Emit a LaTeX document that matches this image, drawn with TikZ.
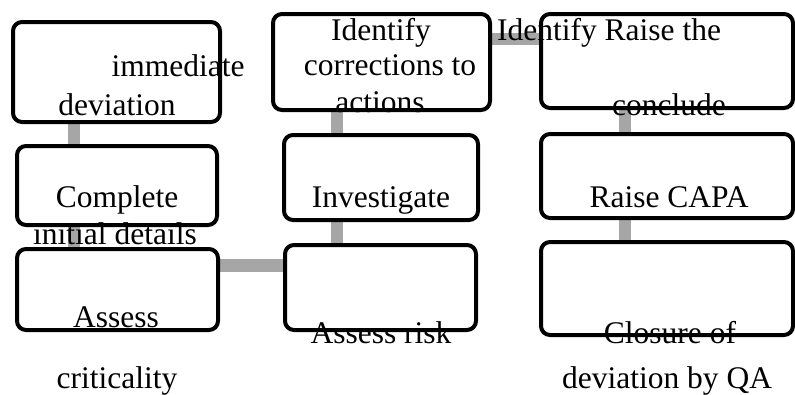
\documentclass[tikz,border=0pt]{standalone}
\usepackage{fontspec}
\setmainfont{Liberation Serif}
\usetikzlibrary{backgrounds}
\begin{document}
\begin{tikzpicture}[x=1pt,y=-1pt,
  stepbox/.style={draw=black, line width=4pt, rounded corners=9pt,
    inner sep=0pt, outer sep=0pt},
  link/.style={draw=black!35, line width=12.5pt},
  lbl/.style={inner sep=0pt, anchor=base, font=\fontsize{31.5}{36}\selectfont}]
\useasboundingbox (0,0) rectangle (795,394);

% columns and rows where the connectors run
\coordinate (xl) at (74,0);
\coordinate (xm) at (337,0);
\coordinate (xr) at (625,0);
\coordinate (ylow) at (0,265.5);
\coordinate (ytop) at (0,39);

% boxes
\node[stepbox, minimum width=207pt, minimum height=100pt] (b1) at (116.5,72) {};
\node[stepbox, minimum width=200pt, minimum height=79pt] (b2) at (117,185.5) {};
\node[stepbox, minimum width=201pt, minimum height=81pt] (b3) at (117.5,289.5) {};
\node[stepbox, minimum width=191pt, minimum height=85pt] (b4) at (380.5,287.5) {};
\node[stepbox, minimum width=194pt, minimum height=85pt] (b5) at (381,177.5) {};
\node[stepbox, minimum width=217pt, minimum height=96pt] (b6) at (381.5,62) {};
\node[stepbox, minimum width=252pt, minimum height=94pt] (b7) at (667,61) {};
\node[stepbox, minimum width=252pt, minimum height=84pt] (b8) at (667,176) {};
\node[stepbox, minimum width=252pt, minimum height=93pt] (b9) at (667,288.5) {};

% connectors, behind the boxes
\begin{pgfonlayer}{background}
\path[link] (b1.south -| xl) -- (b2.north -| xl);
\path[link] (b2.south -| xl) -- (b3.north -| xl);
\path[link] (b3.east |- ylow) -- (b4.west |- ylow);
\path[link] (b4.north -| xm) -- (b5.south -| xm);
\path[link] (b5.north -| xm) -- (b6.south -| xm);
\path[link] (b6.east |- ytop) -- (b7.west |- ytop);
\path[link] (b7.south -| xr) -- (b8.north -| xr);
\path[link] (b8.south -| xr) -- (b9.north -| xr);
\end{pgfonlayer}

% labels
\node[lbl] (t1) at (178,76) {immediate};
\node[lbl] (t2) at (117,115) {deviation};
\node[lbl] (t3) at (117,207) {Complete};
\node[lbl] (t4) at (115,244) {initial details};
\node[lbl] (t5) at (116,327) {Assess};
\node[lbl] (t6) at (117,388) {criticality};
\node[lbl] (t7) at (381,343) {Assess risk};
\node[lbl] (t8) at (381,207) {Investigate};
\node[lbl] (t9) at (381,40) {Identify};
\node[lbl] (t10) at (390,75) {corrections to};
\node[lbl] (t11) at (380,112) {actions};
\node[lbl] (t12) at (609,40) {Identify Raise the};
\node[lbl] (t13) at (669,115) {conclude};
\node[lbl] (t14) at (669,207) {Raise CAPA};
\node[lbl] (t15) at (670,343) {Closure of};
\node[lbl] (t16) at (667,388) {deviation by QA};
\end{tikzpicture}
\end{document}
